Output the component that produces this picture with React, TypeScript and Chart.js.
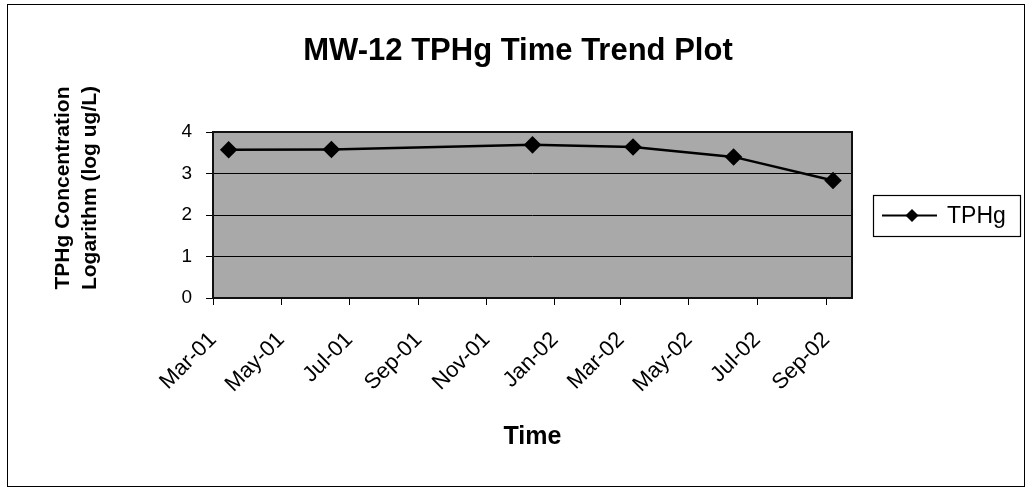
import React, { useEffect, useRef } from "react";
import { Chart, registerables } from "chart.js";

Chart.register(...registerables);

const CHART_TITLE = "MW-12 TPHg Time Trend Plot";
const Y_TITLE_LINES = ["TPHg Concentration", "Logarithm (log ug/L)"];
const X_TITLE = "Time";
const SERIES_NAME = "TPHg";

const SAMPLE_DATES = ["2001-03-15", "2001-06-15", "2001-12-12", "2002-03-12", "2002-06-10", "2002-09-07"];
const TPHG_LOG = [3.57, 3.58, 3.69, 3.64, 3.4, 2.83];

const TICK_DATES = [
  "2001-03-01", "2001-05-01", "2001-07-01", "2001-09-01", "2001-11-01",
  "2002-01-01", "2002-03-01", "2002-05-01", "2002-07-01", "2002-09-01",
];
const TICK_LABELS = ["Mar-01", "May-01", "Jul-01", "Sep-01", "Nov-01", "Jan-02", "Mar-02", "May-02", "Jul-02", "Sep-02"];
const X_MIN_DATE = "2001-03-01";
const X_MAX_DATE = "2002-09-24";
const Y_TICKS = [0, 1, 2, 3, 4];

const FONT = "'Liberation Sans', Arial, sans-serif";

function dayNum(s: string): number {
  const [y, m, d] = s.split("-").map(Number);
  return Date.UTC(y, m - 1, d) / 86400000;
}

const W = 1031;
const H = 492;

const decorPlugin = {
  id: "decor",
  beforeDraw(chart: any) {
    const { ctx, chartArea: a } = chart;
    ctx.save();
    ctx.fillStyle = "#a9a9a9";
    ctx.fillRect(a.left, a.top, a.right - a.left, a.bottom - a.top);
    ctx.restore();
  },
  beforeDatasetsDraw(chart: any) {
    const { ctx, chartArea: a } = chart;
    ctx.save();
    ctx.strokeStyle = "#111";
    ctx.lineWidth = 2;
    ctx.strokeRect(a.left, a.top, a.right - a.left, a.bottom - a.top);
    ctx.restore();
  },
  afterDraw(chart: any) {
    const { ctx } = chart;
    ctx.save();
    // outer chart border
    ctx.strokeStyle = "#000";
    ctx.lineWidth = 1;
    ctx.strokeRect(7.5, 4.5, 1017, 482);

    // chart title
    ctx.fillStyle = "#000";
    ctx.font = `bold 31px ${FONT}`;
    ctx.textAlign = "center";
    ctx.textBaseline = "middle";
    ctx.fillText(CHART_TITLE, 518, 51);

    // y axis title (two lines, rotated)
    ctx.font = `bold 21px ${FONT}`;
    const cx = [63, 90];
    Y_TITLE_LINES.forEach((t, i) => {
      ctx.save();
      ctx.translate(cx[i], 188);
      ctx.rotate(-Math.PI / 2);
      ctx.fillText(t, 0, 0);
      ctx.restore();
    });

    // legend
    const lx = 873, ly = 195, lw = 147, lh = 41;
    ctx.strokeStyle = "#000";
    ctx.lineWidth = 1.2;
    ctx.fillStyle = "#fff";
    ctx.fillRect(lx, ly, lw, lh);
    ctx.strokeRect(lx + 0.5, ly + 0.5, lw, lh);
    const my = ly + lh / 2;
    ctx.beginPath();
    ctx.moveTo(lx + 9, my);
    ctx.lineTo(lx + 64, my);
    ctx.lineWidth = 2;
    ctx.stroke();
    ctx.fillStyle = "#000";
    ctx.beginPath();
    const dx = lx + 39, r = 6.5;
    ctx.moveTo(dx, my - r);
    ctx.lineTo(dx + r, my);
    ctx.lineTo(dx, my + r);
    ctx.lineTo(dx - r, my);
    ctx.closePath();
    ctx.fill();
    ctx.font = `23px ${FONT}`;
    ctx.textAlign = "left";
    ctx.textBaseline = "middle";
    ctx.fillText(SERIES_NAME, lx + 74, my + 1);
    ctx.restore();
  },
};

export default function App() {
  const ref = useRef<HTMLCanvasElement | null>(null);

  useEffect(() => {
    if (!ref.current) return;
    const data = SAMPLE_DATES.map((d, i) => ({ x: dayNum(d), y: TPHG_LOG[i] }));
    const chart = new Chart(ref.current, {
      type: "line",
      data: {
        datasets: [
          {
            label: SERIES_NAME,
            data,
            borderColor: "#000",
            backgroundColor: "#000",
            borderWidth: 2.5,
            pointStyle: "rectRot",
            pointRadius: 7,
            pointBackgroundColor: "#000",
            pointBorderColor: "#000",
            tension: 0,
          },
        ],
      },
      options: {
        animation: false,
        responsive: false,
        devicePixelRatio: 1,
        layout: { padding: { left: 0, right: W - 852, top: 132, bottom: 0 } },
        plugins: {
          legend: { display: false },
          tooltip: { enabled: false },
          title: { display: false },
        },
        scales: {
          x: {
            type: "linear",
            min: dayNum(X_MIN_DATE),
            max: dayNum(X_MAX_DATE),
            afterBuildTicks: (scale: any) => {
              scale.ticks = TICK_DATES.map((d) => ({ value: dayNum(d) }));
            },
            afterFit: (scale: any) => {
              scale.height = H - 298;
            },
            ticks: {
              autoSkip: false,
              maxRotation: 45,
              minRotation: 45,
              color: "#000",
              padding: 22,
              font: { family: FONT, size: 22 },
              callback: (_v: any, i: number) => TICK_LABELS[i],
            },
            grid: {
              drawOnChartArea: false,
              drawTicks: true,
              tickLength: 7,
              color: "#000",
              lineWidth: 1,
            },
            border: { display: false },
            title: {
              display: true,
              text: X_TITLE,
              color: "#000",
              font: { family: FONT, size: 25, weight: "bold", lineHeight: 1.2 },
              padding: { top: 0, bottom: 39.5 },
            },
          },
          y: {
            type: "linear",
            min: 0,
            max: 4,
            afterBuildTicks: (scale: any) => {
              scale.ticks = Y_TICKS.map((v) => ({ value: v }));
            },
            afterFit: (scale: any) => {
              scale.width = 213;
            },
            ticks: {
              color: "#000",
              padding: 14,
              font: { family: FONT, size: 19 },
            },
            grid: {
              color: "#000",
              lineWidth: 1,
              drawTicks: true,
              tickLength: 7,
            },
            border: { display: false },
          },
        },
      },
      plugins: [decorPlugin],
    } as any);
    return () => chart.destroy();
  }, []);

  return (
    <div style={{ position: "absolute", left: 0, top: 0, width: W, height: H, background: "#fff" }}>
      <canvas ref={ref} width={W} height={H} style={{ display: "block" }} />
    </div>
  );
}
